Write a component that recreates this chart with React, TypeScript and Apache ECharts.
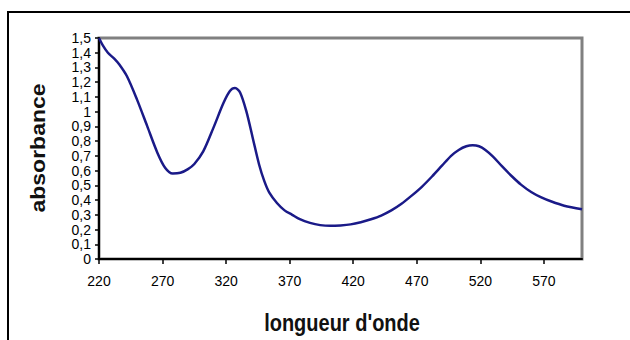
import React, { useEffect, useRef } from "react";
import * as echarts from "echarts";

const wavelengths = [220, 223, 227, 232, 236, 242, 250, 258, 266, 272, 278, 284, 290, 295, 302, 310, 318, 323, 327, 331, 336, 341, 346, 350, 354, 360, 366, 372, 378, 386, 394, 402, 410, 418, 426, 434, 442, 450, 458, 466, 474, 482, 490, 497, 503, 509, 514, 519, 524, 530, 537, 545, 552, 560, 568, 576, 586, 600];
const absorbance = [1.5, 1.45, 1.4, 1.36, 1.32, 1.24, 1.08, 0.9, 0.72, 0.62, 0.58, 0.585, 0.61, 0.645, 0.73, 0.89, 1.06, 1.14, 1.16, 1.13, 1.0, 0.82, 0.64, 0.53, 0.45, 0.38, 0.33, 0.3, 0.27, 0.245, 0.23, 0.225, 0.228, 0.235, 0.25, 0.27, 0.295, 0.33, 0.375, 0.43, 0.49, 0.56, 0.635, 0.7, 0.74, 0.765, 0.772, 0.765, 0.74, 0.695, 0.63, 0.56, 0.505, 0.455, 0.418, 0.39, 0.362, 0.338];
const xTickValues = [220, 270, 320, 370, 420, 470, 520, 570];
const yTickValues = [0, 0.1, 0.2, 0.3, 0.4, 0.5, 0.6, 0.7, 0.8, 0.9, 1, 1.1, 1.2, 1.3, 1.4, 1.5];
const xTitle = "longueur d'onde";
const yTitle = "absorbance";

const labelFont = "'Liberation Sans Narrow', 'Arial Narrow', 'Liberation Sans', Arial, sans-serif";
const titleFont = "'Liberation Sans', Arial, sans-serif";

export default function App() {
  const ref = useRef<HTMLDivElement>(null);
  useEffect(() => {
    if (!ref.current) return;
    const chart = echarts.init(ref.current, undefined, { renderer: "svg" });
    const data = wavelengths.map((w, i) => [w, absorbance[i]]);
    chart.setOption({
      animation: false,
      backgroundColor: "#ffffff",
      grid: {
        left: 99,
        top: 38,
        right: 48,
        bottom: 81,
        show: true,
        borderColor: "#808080",
        borderWidth: 3,
        backgroundColor: "#ffffff",
      },
      xAxis: {
        type: "value",
        min: 220,
        max: 600,
        splitLine: { show: false },
        axisLine: { show: true, onZero: false, lineStyle: { color: "#000", width: 2 } },
        axisTick: { show: true, length: 5, customValues: xTickValues, lineStyle: { color: "#000", width: 1.5 } },
        axisLabel: {
          customValues: xTickValues,
          margin: 15,
          fontFamily: labelFont,
          fontSize: 14,
          color: "#000",
        },
      },
      yAxis: {
        type: "value",
        min: 0,
        max: 1.5,
        splitLine: { show: false },
        axisLine: { show: true, onZero: false, lineStyle: { color: "#000", width: 2 } },
        axisTick: { show: true, length: 4, customValues: yTickValues, lineStyle: { color: "#000", width: 1.5 } },
        axisLabel: {
          customValues: yTickValues,
          margin: 8,
          fontFamily: labelFont,
          fontSize: 14,
          lineHeight: 12,
          color: "#000",
          formatter: (v: number) => String(Math.round(v * 10) / 10).replace(".", ","),
        },
      },
      graphic: [
        {
          type: "rect",
          z: -10,
          silent: true,
          shape: { x: 8, y: 12, width: 700, height: 400 },
          style: { fill: "none", stroke: "#000", lineWidth: 2 },
        },
        {
          type: "text",
          x: 38,
          y: 148,
          rotation: Math.PI / 2,
          scaleX: 1.15,
          style: {
            text: yTitle,
            align: "center",
            verticalAlign: "middle",
            fontFamily: titleFont,
            fontWeight: "bold",
            fontSize: 20,
            fill: "#111",
          },
        },
        {
          type: "text",
          x: 342,
          y: 323,
          scaleY: 1.2,
          style: {
            text: xTitle,
            align: "center",
            verticalAlign: "middle",
            fontFamily: titleFont,
            fontWeight: "bold",
            fontSize: 20,
            fill: "#111",
          },
        },
      ],
      series: [
        {
          type: "line",
          data,
          smooth: 0.3,
          showSymbol: false,
          clip: true,
          lineStyle: { color: "#1a1a88", width: 2.5 },
        },
      ],
    });
    return () => chart.dispose();
  }, []);
  return (
    <div
      ref={ref}
      style={{ position: "absolute", left: 0, top: 0, width: 630, height: 340, background: "#fff" }}
    />
  );
}
